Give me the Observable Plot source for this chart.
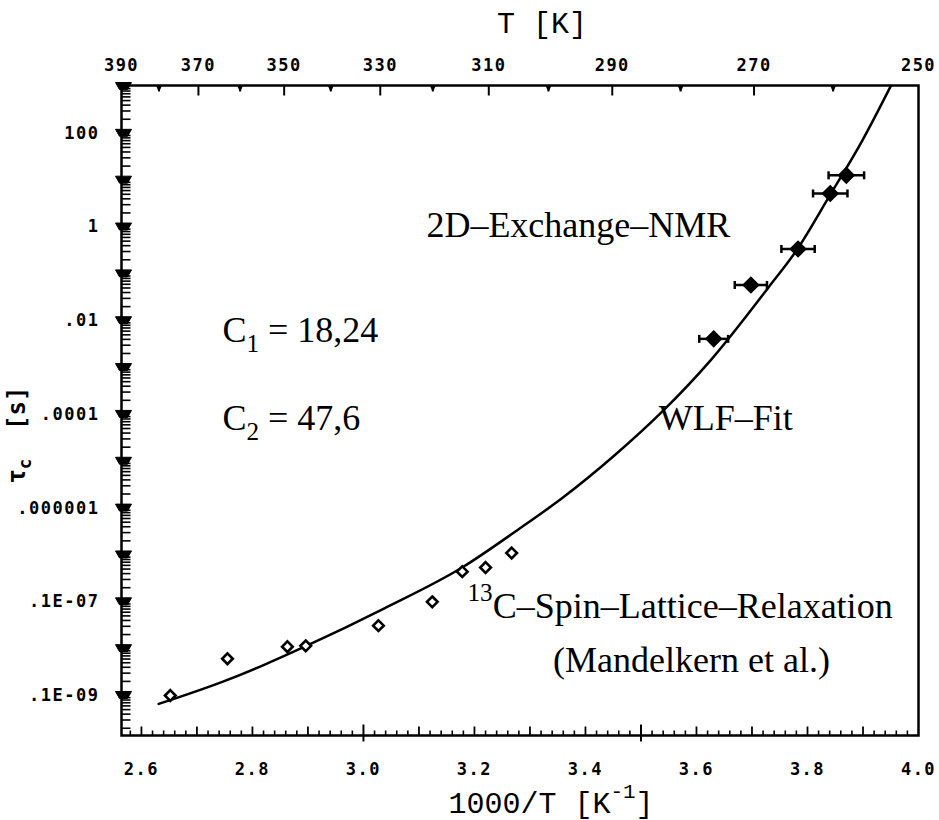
<!DOCTYPE html>
<html><head><meta charset="utf-8">
<script src="https://cdn.jsdelivr.net/npm/d3@7"></script>
<script src="https://cdn.jsdelivr.net/npm/@observablehq/plot@0.6"></script>
<style>body{margin:0;background:#fff;}</style>
</head><body><div id="chart"></div>
<script>
// ---------- data ----------
// 2D-Exchange-NMR points (filled diamonds, with horizontal error bars)
const nmrX    = [3.631, 3.698, 3.783, 3.841, 3.870];
const nmrTau  = [4.1e-3, 5.8e-2, 0.34, 5.2, 12.7];
const nmrXErr = [0.026, 0.029, 0.030, 0.031, 0.032];
// 13C spin-lattice relaxation points (open diamonds)
const relaxX   = [2.652, 2.755, 2.863, 2.896, 3.027, 3.124, 3.178, 3.220, 3.267];
const relaxTau = [1.0e-10, 6.1e-10, 1.1e-9, 1.15e-9, 3.1e-9, 1.0e-8, 4.4e-8, 5.4e-8, 1.1e-7];
// WLF fit curve
const fitX   = [2.631, 2.748, 2.815, 2.899, 3.036, 3.180, 3.279, 3.360, 3.450, 3.540, 3.625, 3.730, 3.782, 3.841, 3.899, 3.950];
const fitTau = [6.6e-11, 2.0e-10, 4.2e-10, 1.17e-9, 7.1e-9, 5.6e-8, 3.5e-7, 1.7e-6, 1.26e-5, 1.2e-4, 1.41e-3, 5.2e-2, 0.34, 4.9, 71, 1020];
// axes
const xTicks = [2.6, 2.8, 3.0, 3.2, 3.4, 3.6, 3.8, 4.0];
const tempLabels = [390, 370, 350, 330, 310, 290, 270, 250];
const tempMinor = [380, 360, 340, 320, 300, 280, 260];
const yTicks = [1e2, 1, 1e-2, 1e-4, 1e-6, 1e-8, 1e-10];
const yTickLabels = ["100", "1", ".01", ".0001", ".000001", ".1E-07", ".1E-09"];
// annotations
const annStart = [
  {text: "C_{1} = 18,24", x: 2.746, y: 3.5e-3},
  {text: "C_{2} = 47,6", x: 2.746, y: 4.65e-5},
  {text: "WLF–Fit", x: 3.532, y: 4.65e-5},
  {text: "^{13}C–Spin–Lattice–Relaxation", x: 3.1875, y: 4.56e-9}
];
const annEnd = [{text: "2D–Exchange–NMR", x: 3.661, y: 0.606}];
const annMiddle = [{text: "(Mandelkern et al.)", x: 3.591, y: 3.2e-10}];

// ---------- helpers ----------
const xDomain = [1000 / 390, 4.0];
const yDomain = [1.4e-11, 1.05e3];
const sym = (fn) => ({draw(ctx) { fn(ctx); }});
const tickRight = (l) => sym(c => { c.moveTo(0, 0); c.lineTo(l, 0); });
const tickUp = (l, d = 0) => sym(c => { c.moveTo(0, d); c.lineTo(0, -l); });
const tickDown = (l) => sym(c => { c.moveTo(0, 0); c.lineTo(0, l); });
const vbar = (l) => sym(c => { c.moveTo(0, -l); c.lineTo(0, l); });
const blobY = sym(c => { c.moveTo(-6, -4); c.lineTo(10, -4); c.lineTo(6, 3); c.lineTo(-2, 3); c.closePath(); });
const blobTop = sym(c => { c.moveTo(-3, 0); c.lineTo(3, 0); c.lineTo(0.8, 5); c.lineTo(-0.8, 5); c.closePath(); });

const decades = d3.range(-10, 4).map(n => Math.pow(10, n));
const minors = [];
for (let n = -12; n <= 3; n++) for (let k = 2; k <= 9; k++) {
  const v = k * Math.pow(10, n);
  if (v > yDomain[0] && v < yDomain[1]) minors.push(v);
}
const xMinor = d3.range(129, 200).map(i => ({v: i / 50, t: i % 25 === 0 ? 2 : i % 5 === 0 ? 1 : 0}));

const mono = "DejaVu Sans Mono";
const nmrIdx = d3.range(nmrX.length);

const chart = Plot.plot({
  width: 939, height: 820,
  marginTop: 85, marginBottom: 85, marginLeft: 121, marginRight: 21,
  x: {domain: xDomain, label: null},
  y: {type: "log", domain: yDomain, label: null},
  marks: [
    // axes tick labels
    Plot.axisX(xTicks, {anchor: "bottom", label: null, tickSize: 0, tickPadding: 27, tickFormat: d => d.toFixed(1),
      fontSize: 17, fontFamily: mono, fontWeight: "bold"}),
    Plot.axisX(tempLabels.map(t => 1000 / t), {anchor: "top", label: null, tickSize: 0, tickPadding: 15,
      tickFormat: d => String(Math.round(1000 / d)), fontSize: 17, fontFamily: mono, fontWeight: "bold"}),
    Plot.axisY(yTicks, {anchor: "left", label: null, tickSize: 0, tickPadding: 22,
      tickFormat: d => yTickLabels[yTicks.indexOf(d)], fontSize: 17, fontFamily: mono, fontWeight: "bold"}),
    // tick marks
    Plot.dot(minors, {x: () => xDomain[0], y: d => d, symbol: tickRight(9), fill: "none", stroke: "black", strokeWidth: 1.6}),
    Plot.dot(decades, {x: () => xDomain[0], y: d => d, symbol: blobY, fill: "black", stroke: "black", strokeWidth: 1}),
    Plot.dot(xMinor.filter(d => d.t === 0), {x: "v", y: () => yDomain[0], symbol: tickUp(5), fill: "none", stroke: "black", strokeWidth: 1.6}),
    Plot.dot(xMinor.filter(d => d.t === 1), {x: "v", y: () => yDomain[0], symbol: tickUp(9), fill: "none", stroke: "black", strokeWidth: 1.8}),
    Plot.dot(xMinor.filter(d => d.t === 2), {x: "v", y: () => yDomain[0], symbol: tickUp(11, 6), fill: "none", stroke: "black", strokeWidth: 2}),
    Plot.dot(tempMinor, {x: d => 1000 / d, y: () => yDomain[1], symbol: tickDown(6), fill: "none", stroke: "black", strokeWidth: 2}),
    Plot.dot(tempLabels.slice(1, -1), {x: d => 1000 / d, y: () => yDomain[1], symbol: tickDown(10), fill: "none", stroke: "black", strokeWidth: 2}),
    Plot.dot(tempMinor, {x: d => 1000 / d, y: () => yDomain[1], symbol: blobTop, fill: "black", stroke: "none"}),
    Plot.frame({stroke: "black", strokeWidth: 2.5}),
    // WLF fit
    Plot.line(d3.range(fitX.length), {x: i => fitX[i], y: i => fitTau[i], curve: "monotone-x", stroke: "black", strokeWidth: 2.5}),
    // error bars
    Plot.ruleY(nmrIdx, {x1: i => nmrX[i] - nmrXErr[i], x2: i => nmrX[i] + nmrXErr[i], y: i => nmrTau[i], stroke: "black", strokeWidth: 2.5}),
    Plot.dot(nmrIdx, {x: i => nmrX[i] - nmrXErr[i], y: i => nmrTau[i], symbol: vbar(4), fill: "none", stroke: "black", strokeWidth: 2.5}),
    Plot.dot(nmrIdx, {x: i => nmrX[i] + nmrXErr[i], y: i => nmrTau[i], symbol: vbar(4), fill: "none", stroke: "black", strokeWidth: 2.5}),
    // points
    Plot.dot(nmrIdx, {x: i => nmrX[i], y: i => nmrTau[i], symbol: "diamond2", r: 7, fill: "black", stroke: "black", strokeWidth: 1.5}),
    Plot.dot(d3.range(relaxX.length), {x: i => relaxX[i], y: i => relaxTau[i], symbol: "diamond2", r: 4.8, fill: "white", stroke: "black", strokeWidth: 2.6}),
    // annotations
    Plot.text(annStart, {x: "x", y: "y", text: "text", textAnchor: "start", lineAnchor: "bottom", fontFamily: "Liberation Serif", fontSize: 36}),
    Plot.text(annEnd, {x: "x", y: "y", text: "text", textAnchor: "end", lineAnchor: "bottom", fontFamily: "Liberation Serif", fontSize: 36}),
    Plot.text(annMiddle, {x: "x", y: "y", text: "text", textAnchor: "middle", lineAnchor: "bottom", fontFamily: "Liberation Serif", fontSize: 36}),
    // axis titles
    Plot.text(["T [K]"], {frameAnchor: "top", dx: 22, dy: -53, lineAnchor: "bottom", fontFamily: "Liberation Mono", fontSize: 30}),
    Plot.text(["1000/T [K^{-1}]"], {frameAnchor: "bottom", dx: 31, dy: 77, lineAnchor: "bottom", fontFamily: "Liberation Mono", fontSize: 30})
  ]
});
document.getElementById("chart").append(chart);

// y-axis title (rotated)
d3.select(chart).append("text")
  .attr("transform", "translate(25,435) rotate(-90)")
  .attr("text-anchor", "middle").attr("dy", "0.32em")
  .attr("font-family", mono).attr("font-weight", "bold").attr("font-size", 24)
  .text("τ_{c}\u00a0\u00a0[s]");

// sub/superscripts as tspans
chart.querySelectorAll("text").forEach(t => {
  const s = t.textContent;
  if (!/[_^]\{/.test(s)) return;
  const base = parseFloat(getComputedStyle(t).fontSize);
  t.textContent = "";
  let shift = 0;
  s.split(/(_\{[^}]*\}|\^\{[^}]*\})/).filter(p => p).forEach(p => {
    const ts = document.createElementNS("http://www.w3.org/2000/svg", "tspan");
    let target = 0, txt = p, small = false;
    if (p.startsWith("_{")) { target = base * 0.27; txt = p.slice(2, -1); small = true; }
    else if (p.startsWith("^{")) { target = -base * 0.48; txt = p.slice(2, -1); small = true; }
    ts.setAttribute("dy", target - shift); shift = target;
    if (small) ts.setAttribute("font-size", base * 0.7);
    ts.textContent = txt;
    t.appendChild(ts);
  });
});
chart.querySelectorAll('g[aria-label$="tick label"]').forEach(g => g.style.letterSpacing = "1.5px");
</script>
</body></html>
